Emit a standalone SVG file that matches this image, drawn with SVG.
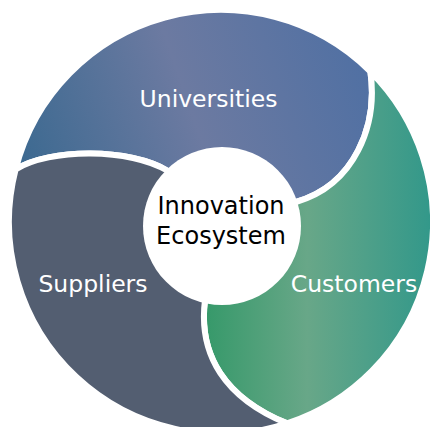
<svg xmlns="http://www.w3.org/2000/svg" width="430" height="427" viewBox="0 0 430 427">
<defs>
<linearGradient id="gUni" gradientUnits="userSpaceOnUse" x1="20" y1="175" x2="365" y2="55">
<stop offset="0" stop-color="#3b6990"/>
<stop offset="0.5" stop-color="#6c7aa1"/>
<stop offset="1" stop-color="#5070a3"/>
</linearGradient>
<linearGradient id="gCust" gradientUnits="userSpaceOnUse" x1="205" y1="0" x2="432" y2="0">
<stop offset="0" stop-color="#36996a"/>
<stop offset="0.45" stop-color="#68a788"/>
<stop offset="1" stop-color="#32988a"/>
</linearGradient>
<style>
.seg{stroke:#ffffff;stroke-width:6;stroke-linejoin:round}
.lbl{font-family:"DejaVu Sans",Verdana,sans-serif;font-size:23.5px;fill:#ffffff;text-anchor:middle}
.ctr{font-family:"DejaVu Sans",Verdana,sans-serif;font-size:24px;fill:#000000;text-anchor:middle}
</style>
</defs>
<rect width="430" height="427" fill="#ffffff"/>
<g id="universities">
<path class="seg" fill="url(#gUni)" d="M 15.6,169.4 A 212 212 0 0 1 370.4,71.6 C 378,125 355,185 296,202 L 221,222 L 168,171 C 130,148 50,148 15.6,169.4 Z"/>
<text class="lbl" x="208.5" y="107">Universities</text>
</g>
<g id="customers">
<path class="seg" fill="url(#gCust)" d="M 370.4,71.6 A 212 212 0 0 1 287.1,423.4 C 225,398 198,355 205,300 L 221,222 L 296,202 C 355,185 378,125 370.4,71.6 Z"/>
<text class="lbl" x="354" y="292">Customers</text>
</g>
<g id="suppliers">
<path class="seg" fill="#535e71" d="M 287.1,423.4 A 212 212 0 0 1 15.6,169.4 C 50,148 130,148 168,171 L 221,222 L 205,300 C 198,355 225,398 287.1,423.4 Z"/>
<text class="lbl" x="93" y="292">Suppliers</text>
</g>
<g id="connectors"></g>
<g id="center">
<circle cx="222" cy="226" r="79" fill="#ffffff"/>
<text class="ctr" x="221" y="214">Innovation</text>
<text class="ctr" x="221" y="244">Ecosystem</text>
</g>
</svg>
